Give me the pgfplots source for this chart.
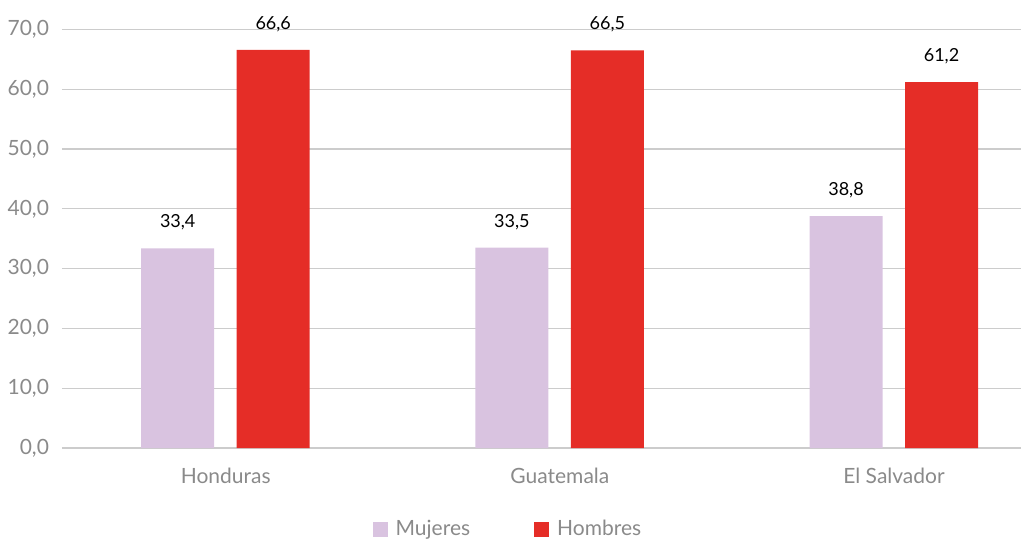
\documentclass[border=0pt]{standalone}
\usepackage{pgfplots}
\pgfplotsset{compat=1.18}
\usepackage{fontspec}
\setmainfont{Lato}
\definecolor{mujer}{HTML}{D9C3E0}
\definecolor{hombre}{HTML}{E52D27}
\definecolor{txtgray}{HTML}{8A8A8A}
\definecolor{gridgray}{HTML}{CCCCCC}
\begin{document}
\begin{tikzpicture}
\path[use as bounding box] (-31pt,-45pt) rectangle (479.5pt,224pt);
\begin{axis}[
    at={(0pt,0pt)}, anchor=south west,
    scale only axis,
    width=479.5pt, height=209.25pt,
    ybar,
    bar width=36.5pt,
    xmin=-0.49, xmax=2.38,
    ymin=0, ymax=70,
    ytick={0,10,...,70},
    xtick={0,1,2},
    xticklabels={Honduras,Guatemala,El Salvador},
    axis line style={draw=none},
    ymajorgrids,
    grid style={gridgray, line width=0.6pt},
    major tick length=0pt,
    /pgf/number format/.cd, use comma, fixed, fixed zerofill, precision=1, assume math mode=true,
    /pgfplots/.cd,
    yticklabel style={font=\fontsize{10.5}{12}\selectfont, text=txtgray, xshift=-3pt},
    xticklabel style={font=\fontsize{10.5}{12}\selectfont, text=txtgray, yshift=-6.5pt},
    clip=false,
    nodes near coords,
    every node near coord/.append style={font=\fontsize{9}{10}\selectfont, text=black, yshift=5.5pt},
    legend style={at={(0.466,-0.195)}, anchor=center, draw=none, fill=none,
        legend columns=2, font=\fontsize{10.5}{12}\selectfont, text=txtgray,
        /tikz/every odd column/.append style={column sep=2pt},
        /tikz/every even column/.append style={column sep=30pt}},
    legend image code/.code={\fill[#1] (0pt,-3.75pt) rectangle (7.5pt,3.75pt);},
]
\addplot[fill=mujer, draw=none, bar shift=-24pt] coordinates {(0,33.4) (1,33.5) (2,38.8)};
\addplot[fill=hombre, draw=none, bar shift=23.75pt] coordinates {(0,66.6) (1,66.5) (2,61.2)};
\legend{Mujeres, Hombres}
\end{axis}
\end{tikzpicture}
\end{document}
